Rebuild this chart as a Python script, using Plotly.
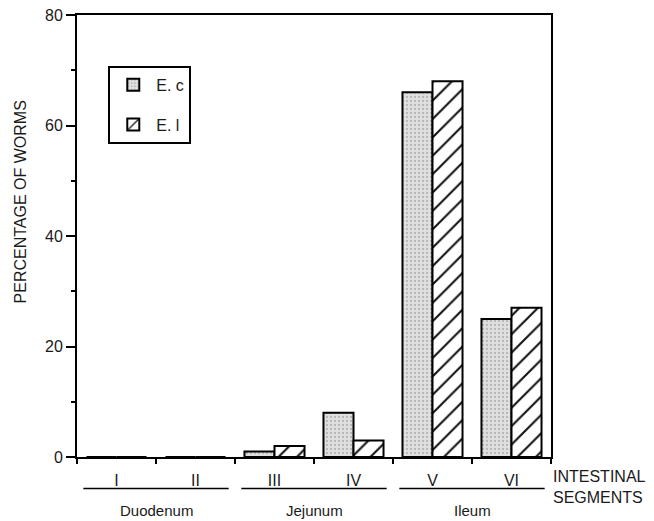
import plotly.graph_objects as go

segments = ["I", "II", "III", "IV", "V", "VI"]
ec_values = [0, 0, 1, 8, 66, 25]
el_values = [0, 0, 2, 3, 68, 27]
series_names = ["E. c", "E. l"]
groups = ["Duodenum", "Jejunum", "Ileum"]
group_spans = [("I", "II"), ("III", "IV"), ("V", "VI")]
y_ticks = [0, 20, 40, 60, 80]
y_title = "PERCENTAGE OF WORMS"
x_title = "INTESTINAL<br>SEGMENTS"

FONT = "Liberation Sans, Arial, sans-serif"
TXT = "#1a1a1a"

fig = go.Figure()
fig.add_trace(go.Bar(
    x=segments, y=ec_values, name=series_names[0], legendgroup="a",
    marker=dict(color="#e0e0e0", line=dict(color="black", width=2),
                pattern=dict(shape=".", fgcolor="#8c8c8c", bgcolor="#e0e0e0",
                             size=4, solidity=0.25)),
))
fig.add_trace(go.Bar(
    x=segments, y=el_values, name=series_names[1], legendgroup="b",
    marker=dict(color="white", line=dict(color="black", width=2),
                pattern=dict(shape="/", fgcolor="#111", bgcolor="white", fgopacity=1,
                             size=13, solidity=0.16)),
))

idx = {s: i for i, s in enumerate(segments)}
shapes = []
annotations = []
for g, (a, b) in zip(groups, group_spans):
    x0 = idx[a] - 0.42
    x1 = idx[b] + 0.42
    shapes.append(dict(type="line", xref="x", yref="paper", x0=x0, x1=x1,
                       y0=-0.071, y1=-0.071, line=dict(color="black", width=1.5)))
    annotations.append(dict(text=g, xref="x", yref="paper", x=(idx[a] + idx[b]) / 2,
                            y=-0.12, showarrow=False, yanchor="middle",
                            font=dict(family=FONT, size=15, color=TXT)))
annotations.append(dict(text=x_title, xref="paper", yref="paper",
                        x=1.0, y=-0.068, xanchor="left", yanchor="middle",
                        align="left", showarrow=False,
                        font=dict(family=FONT, size=16, color=TXT)))
annotations.append(dict(text=y_title, xref="paper", yref="paper",
                        x=0, xshift=-57, y=0.576, xanchor="center", yanchor="middle",
                        textangle=-90, showarrow=False,
                        font=dict(family=FONT, size=16, color=TXT)))

fig.update_layout(
    width=654, height=521, autosize=False,
    margin=dict(l=77, r=103, t=15, b=64, pad=0),
    paper_bgcolor="white", plot_bgcolor="white",
    barmode="group", bargap=0.24, bargroupgap=0,
    showlegend=True,
    legend=dict(x=0.066, y=0.885, xanchor="left", yanchor="top",
                bordercolor="black", borderwidth=2, bgcolor="white",
                traceorder="grouped", tracegroupgap=16,
                font=dict(family=FONT, size=16, color=TXT),
                itemwidth=36),
    font=dict(family=FONT, color=TXT),
    shapes=shapes, annotations=annotations,
)
fig.update_xaxes(
    type="category", categoryorder="array", categoryarray=segments,
    tickson="boundaries", ticks="outside", ticklen=5, tickwidth=1.5, tickcolor="black",
    showline=True, linecolor="black", linewidth=2, mirror=True,
    showgrid=False, zeroline=False, ticklabelstandoff=8, automargin=False,
    tickfont=dict(family=FONT, size=16, color=TXT),
)
fig.update_yaxes(
    range=[0, 80], tickvals=y_ticks, ticks="outside", ticklen=9, tickwidth=1.5,
    tickcolor="black", showline=True, linecolor="black", linewidth=2, mirror=True,
    showgrid=False, zeroline=False, automargin=False,
    minor=dict(dtick=10, ticks="outside", ticklen=4, tickwidth=1.5, tickcolor="black"),
    tickfont=dict(family=FONT, size=16, color=TXT),
)

fig.write_html(
    "out.html",
    config={"displayModeBar": False},
    post_script="document.body.style.margin='0';document.body.style.overflow='hidden';",
)
